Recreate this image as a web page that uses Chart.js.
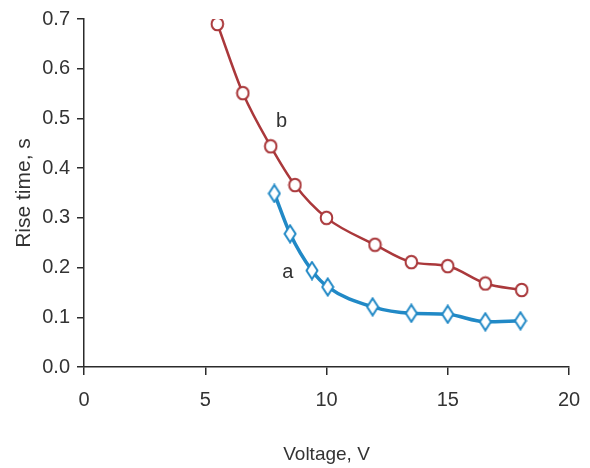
<!DOCTYPE html>
<html>
<head>
<meta charset="utf-8">
<script src="https://cdn.jsdelivr.net/npm/chart.js@4"></script>
<style>
  html, body { margin: 0; padding: 0; background: #ffffff; }
  #wrap { width: 590px; height: 468px; }
</style>
</head>
<body>
<div id="wrap"><canvas id="c" width="590" height="468"></canvas></div>
<script>
// ---- data ----
const voltageB = [5.5, 6.55, 7.7, 8.7, 10, 12, 13.5, 15, 16.55, 18.05];
const riseB    = [0.69, 0.551, 0.444, 0.366, 0.30, 0.246, 0.211, 0.203, 0.168, 0.155];
const voltageA = [7.85, 8.5, 9.4, 10.05, 11.9, 13.5, 15, 16.55, 18];
const riseA    = [0.349, 0.268, 0.194, 0.161, 0.121, 0.108, 0.106, 0.091, 0.093];
const xTicks = [0, 5, 10, 15, 20];
const yTicks = [0.0, 0.1, 0.2, 0.3, 0.4, 0.5, 0.6, 0.7];
const curveLabels = ['b', 'a'];
const curveLabelX = [8.15, 8.4];
const curveLabelY = [0.494, 0.19];
const xTitle = 'Voltage, V';
const yTitle = 'Rise time, s';

const RED = '#aa383b';
const BLUE = '#2189c6';
const AXIS = '#2b2b2b';
const FONT = "'Liberation Sans', Arial, sans-serif";

function makeDiamond(color) {
  const w = 14, h = 20;
  const cv = document.createElement('canvas');
  cv.width = w; cv.height = h;
  const g = cv.getContext('2d');
  g.beginPath();
  g.moveTo(w / 2, 1.5);
  g.lineTo(w - 1.5, h / 2);
  g.lineTo(w / 2, h - 1.5);
  g.lineTo(1.5, h / 2);
  g.closePath();
  g.fillStyle = '#ffffff';
  g.fill();
  g.lineWidth = 2;
  g.strokeStyle = color;
  g.stroke();
  return cv;
}
function makeCircle(color) {
  const w = 15, h = 16;
  const cv = document.createElement('canvas');
  cv.width = w; cv.height = h;
  const g = cv.getContext('2d');
  g.beginPath();
  g.ellipse(w / 2, h / 2, 5.8, 6.3, 0, 0, Math.PI * 2);
  g.fillStyle = '#ffffff';
  g.fill();
  g.lineWidth = 2;
  g.strokeStyle = color;
  g.stroke();
  return cv;
}

const curveLabelPlugin = {
  id: 'curveLabels',
  afterDatasetsDraw(chart) {
    const ctx = chart.ctx;
    const xs = chart.scales.x, ys = chart.scales.y;
    ctx.save();
    ctx.fillStyle = '#333333';
    ctx.font = "20px " + FONT;
    ctx.textAlign = 'center';
    ctx.textBaseline = 'middle';
    curveLabels.forEach((t, i) => {
      ctx.fillText(t, xs.getPixelForValue(curveLabelX[i]), ys.getPixelForValue(curveLabelY[i]));
    });
    ctx.restore();
  }
};

const diamond = makeDiamond(BLUE);
const circle = makeCircle(RED);

new Chart(document.getElementById('c'), {
  type: 'scatter',
  data: {
    datasets: [
      {
        label: 'b',
        data: voltageB.map((v, i) => ({ x: v, y: riseB[i] })),
        showLine: true,
        borderColor: RED,
        borderWidth: 2.5,
        cubicInterpolationMode: 'monotone',
        pointStyle: circle,
        pointRadius: 6,
        pointHoverRadius: 6
      },
      {
        label: 'a',
        data: voltageA.map((v, i) => ({ x: v, y: riseA[i] })),
        showLine: true,
        borderColor: BLUE,
        borderWidth: 3.5,
        cubicInterpolationMode: 'monotone',
        pointStyle: diamond,
        pointRadius: 8,
        pointHoverRadius: 8
      }
    ]
  },
  options: {
    responsive: false,
    animation: false,
    events: [],
    layout: { padding: { left: 0, right: 21, top: 18, bottom: 0 } },
    plugins: {
      legend: { display: false },
      tooltip: { enabled: false }
    },
    scales: {
      x: {
        type: 'linear',
        min: xTicks[0],
        max: xTicks[xTicks.length - 1],
        afterBuildTicks(scale) { scale.ticks = xTicks.map(v => ({ value: v })); },
        afterFit(scale) { scale.height = 101; scale.paddingRight = 0; scale.paddingLeft = 0; },
        grid: { drawOnChartArea: false, drawTicks: true, tickLength: 8, color: AXIS, lineWidth: 1.5 },
        border: { display: true, color: AXIS, width: 1.5 },
        ticks: {
          color: '#333333',
          padding: 13,
          maxRotation: 0,
          font: { family: FONT, size: 20 },
          callback: v => String(v)
        },
        title: {
          display: true,
          text: xTitle,
          color: '#333333',
          font: { family: FONT, size: 19 },
          padding: { top: 0, bottom: 2 }
        }
      },
      y: {
        type: 'linear',
        min: yTicks[0],
        max: yTicks[yTicks.length - 1],
        afterBuildTicks(scale) { scale.ticks = yTicks.map(v => ({ value: v })); },
        afterFit(scale) { scale.width = 84; },
        grid: { drawOnChartArea: false, drawTicks: true, tickLength: 7, color: AXIS, lineWidth: 1.5 },
        border: { display: true, color: AXIS, width: 1.5 },
        ticks: {
          color: '#333333',
          padding: 7,
          font: { family: FONT, size: 20 },
          callback: v => Number(v).toFixed(1)
        },
        title: {
          display: true,
          text: yTitle,
          color: '#333333',
          font: { family: FONT, size: 21 },
          padding: { top: 12, bottom: 0 }
        }
      }
    }
  },
  plugins: [curveLabelPlugin]
});
</script>
</body>
</html>
